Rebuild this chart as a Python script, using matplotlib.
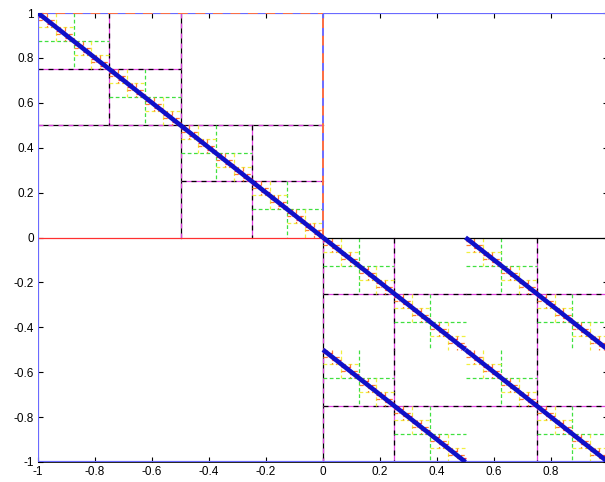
import numpy as np
import matplotlib
matplotlib.use("Agg")
import matplotlib.pyplot as plt

# diagonal blocks: (left x, top y, size)
blocks_x = [-1.0, 0.0, 0.5, 0.0, 0.5]
blocks_y = [1.0, 0.0, 0.0, -0.5, -0.5]
blocks_s = [1.0, 0.5, 0.5, 0.5, 0.5]

# colour of the split lines for each scale (half size of the split square)
scales = [0.5, 0.25, 0.125, 0.0625, 0.03125, 0.015625]
scale_main = ["black", "#e040e0", "#40e040", "#f0f040", "#ff8030", "#ff3030"]
scale_dash = ["#e040e0", "black", None, None, None, None]

xticks = [-1, -0.8, -0.6, -0.4, -0.2, 0, 0.2, 0.4, 0.6, 0.8, 1]
yticks = [-1, -0.8, -0.6, -0.4, -0.2, 0, 0.2, 0.4, 0.6, 0.8, 1]
# the label at x=1 falls outside the cropped picture
xticklabels = ["-1", "-0.8", "-0.6", "-0.4", "-0.2", "0", "0.2", "0.4", "0.6", "0.8", ""]
yticklabels = ["-1", "-0.8", "-0.6", "-0.4", "-0.2", "0", "0.2", "0.4", "0.6", "0.8", "1"]

plt.rcParams['font.family'] = ['Liberation Sans', 'DejaVu Sans']

fig = plt.figure(figsize=(6.05, 4.82), dpi=100)
ax = fig.add_axes([38/605, 20/482, 570/605, 449/482])
ax.set_xlim(-1, 1)
ax.set_ylim(-1, 1)


def seg(xs, ys, level):
    c = scale_main[level]
    d = scale_dash[level]
    if d is not None:
        ax.plot(xs, ys, color=c, lw=0.9, zorder=2 + level * 0.1)
        ax.plot(xs, ys, color=d, lw=0.9, dashes=(4, 4), zorder=2 + level * 0.1 + 0.05)
    else:
        ax.plot(xs, ys, color=c, lw=0.9, dashes=(3, 2), zorder=2 + level * 0.1)


def split(x0, y1, s):
    h = s / 2
    if h < scales[-1] - 1e-9:
        return
    level = scales.index(min(scales, key=lambda v: abs(v - h)))
    seg([x0, x0 + s], [y1 - h, y1 - h], level)
    seg([x0 + h, x0 + h], [y1, y1 - s], level)
    split(x0, y1, h)
    split(x0 + h, y1 - h, h)


for bx, by, bs in zip(blocks_x, blocks_y, blocks_s):
    split(bx, by, bs)
    # the diagonal itself
    ax.plot([bx, bx + bs], [by, by - bs], color="#1010c8", lw=3.3,
            solid_capstyle="butt", zorder=5)

# quadrant frames
ax.plot([0, 1], [0, 0], color="black", lw=0.9, zorder=3)
seg([0, 0], [0, -1], 0)
ax.plot([-1, 0], [0, 0], color="#ff3030", lw=0.9, zorder=3)
blue = "#6a6aff"
ax.plot([-1, -1], [-1, 1], color=blue, lw=1.6, zorder=4)
ax.plot([-1, 1], [-1, -1], color=blue, lw=1.6, zorder=4)
ax.plot([-1, 1], [1, 1], color=blue, lw=1.6, zorder=4)
ax.plot([1, 1], [-1, 1], color=blue, lw=1.6, zorder=4)
ax.plot([0, 0], [0, 1], color=blue, lw=1.4, zorder=4)
ax.plot([-1, 0], [1, 1], color="#ff7040", lw=1.4, dashes=(5, 4), zorder=4.5)
ax.plot([0, 0], [0, 1], color="#ff7040", lw=1.4, dashes=(5, 4), zorder=4.5)

ax.set_xticks(xticks)
ax.set_xticklabels(xticklabels)
ax.set_yticks(yticks)
ax.set_yticklabels(yticklabels)
ax.tick_params(direction="in", length=3.5, width=0.8, top=True, right=True,
               labelsize=8.5, pad=3)
for sp in ax.spines.values():
    sp.set_linewidth(0.6)

fig.savefig("out.png", dpi=100)
